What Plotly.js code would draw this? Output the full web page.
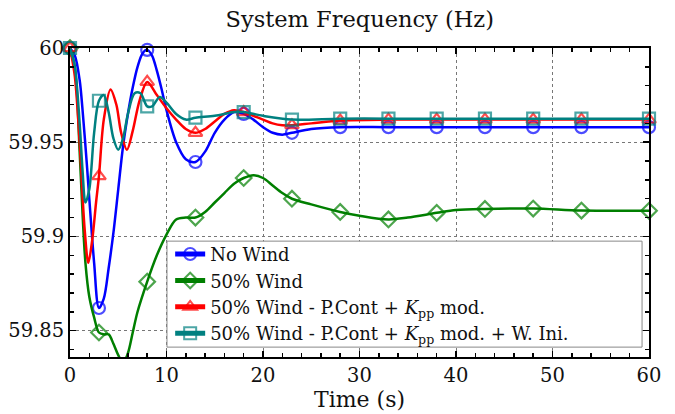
<!DOCTYPE html>
<html>
<head>
<meta charset="utf-8">
<script src="https://cdn.plot.ly/plotly-3.0.1.min.js"></script>
<style>
  html, body { margin: 0; padding: 0; background: #fff; }
  #chart { width: 675px; height: 414px; }
</style>
</head>
<body>
<div id="chart"></div>
<script>
// Frequency response of the system after the disturbance (time in s, frequency in Hz)

// Times at which each curve carries a marker symbol
const markTimes = [0, 3, 8, 13, 18, 23, 28, 33, 38, 43, 48, 53, 60];

// No Wind
const tNoWind = [0, 0.5, 1, 1.35, 1.75, 2, 2.5, 3, 3.5, 4, 4.5, 5, 5.5, 6, 6.5, 7, 7.5, 8, 8.5, 9, 9.5, 10, 11, 12, 13, 14, 15, 16, 17, 18, 19, 20, 21, 22, 23, 25, 28, 33, 38, 43, 48, 53, 60];
const fNoWind = [60.000, 59.996, 59.983, 59.964, 59.938, 59.920, 59.886, 59.862, 59.867, 59.883, 59.902, 59.925, 59.948, 59.965, 59.979, 59.990, 59.997, 59.999, 59.996, 59.988, 59.978, 59.967, 59.950, 59.941, 59.9395, 59.945, 59.955, 59.962, 59.966, 59.965, 59.962, 59.958, 59.955, 59.954, 59.955, 59.957, 59.958, 59.958, 59.958, 59.958, 59.958, 59.958, 59.958];

// 50% Wind
const tWind = [0, 0.5, 1, 1.3, 1.6, 2, 2.5, 3, 3.5, 4, 4.5, 5, 5.5, 6, 6.5, 7, 8, 9, 10, 11, 12, 13, 14, 15, 16, 17, 18, 19, 20, 21, 22, 23, 25, 28, 30, 33, 35, 38, 40, 43, 48, 53, 60];
const fWind = [60.000, 59.990, 59.945, 59.912, 59.886, 59.868, 59.857, 59.849, 59.848, 59.848, 59.843, 59.837, 59.833, 59.838, 59.849, 59.860, 59.876, 59.890, 59.901, 59.909, 59.910, 59.910, 59.913, 59.918, 59.923, 59.928, 59.931, 59.9325, 59.931, 59.927, 59.923, 59.920, 59.917, 59.913, 59.911, 59.909, 59.910, 59.9125, 59.914, 59.9146, 59.9148, 59.9137, 59.9136];

// 50% Wind - P.Cont + Kpp mod.
const tPCont = [0, 0.5, 1, 1.5, 1.9, 2.3, 2.7, 3, 3.5, 4.2, 4.8, 5.3, 5.9, 6.5, 7.2, 8, 9, 10, 11, 12, 13, 14, 15, 16, 17, 18, 19, 20, 21, 22, 23, 25, 28, 33, 38, 43, 48, 53, 60];
const fPCont = [60.000, 59.985, 59.950, 59.905, 59.886, 59.898, 59.918, 59.932, 59.962, 59.978, 59.970, 59.955, 59.946, 59.956, 59.972, 59.982, 59.975, 59.968, 59.962, 59.957, 59.955, 59.957, 59.961, 59.965, 59.967, 59.966, 59.964, 59.962, 59.960, 59.959, 59.959, 59.960, 59.9615, 59.962, 59.962, 59.962, 59.962, 59.962, 59.962];

// 50% Wind - P.Cont + Kpp mod. + W. Ini.
const tWIni = [0, 0.5, 1, 1.3, 1.6, 2, 2.5, 3, 3.5, 4, 4.5, 5, 5.5, 6, 6.7, 7.3, 8, 8.5, 9.3, 10, 11, 12, 13, 15, 17, 18, 20, 23, 28, 33, 38, 43, 48, 53, 60];
const fWIni = [60.000, 59.990, 59.960, 59.935, 59.918, 59.925, 59.955, 59.972, 59.975, 59.966, 59.952, 59.946, 59.952, 59.965, 59.976, 59.976, 59.969, 59.969, 59.974, 59.971, 59.965, 59.962, 59.963, 59.964, 59.966, 59.966, 59.964, 59.962, 59.9625, 59.9625, 59.9625, 59.9625, 59.9625, 59.9625, 59.9625];

const seriesNames = [
  'No Wind',
  '50% Wind',
  '50% Wind - P.Cont + <i>K</i><sub>pp</sub> mod.',
  '50% Wind - P.Cont + <i>K</i><sub>pp</sub> mod. + W. Ini.'
];

// Axis ticks
const xTickVals = [0, 10, 20, 30, 40, 50, 60];
const yTickVals = [59.85, 59.9, 59.95, 60];
const yTickText = ['59.85', '59.9', '59.95', '60'];

const FONT = 'DejaVu Serif';

function curve(t, f, name, color, symbol) {
  const sizes = t.map(v => markTimes.includes(v) ? 12 : 0);
  return {
    type: 'scatter',
    mode: 'lines+markers',
    x: t,
    y: f,
    name: name,
    cliponaxis: false,
    line: { color: color, width: 2.5, shape: 'spline', smoothing: 0.9 },
    marker: { symbol: symbol, size: sizes, color: color, line: { color: color, width: 2.2 } }
  };
}

const data = [
  curve(tNoWind, fNoWind, seriesNames[0], '#0000ff', 'circle-open'),
  curve(tWind, fWind, seriesNames[1], '#007f00', 'diamond-open'),
  curve(tPCont, fPCont, seriesNames[2], '#ff0000', 'triangle-up-open'),
  curve(tWIni, fWIni, seriesNames[3], '#008080', 'square-open')
];

const axisCommon = {
  showline: true,
  linecolor: '#000',
  linewidth: 2,
  mirror: 'ticks',
  ticks: 'inside',
  ticklen: 6,
  tickwidth: 1.5,
  tickcolor: '#000',
  showgrid: true,
  gridcolor: '#777',
  griddash: 'dot',
  gridwidth: 1,
  zeroline: false,
  tickfont: { family: FONT, size: 19.5, color: '#111' }
};

const layout = {
  width: 675,
  height: 414,
  margin: { l: 70, r: 26, t: 48, b: 57 },
  paper_bgcolor: '#fff',
  plot_bgcolor: '#fff',
  showlegend: true,
  font: { family: FONT, color: '#111' },
  title: {
    text: 'System Frequency (Hz)',
    font: { family: FONT, size: 22.5, color: '#111' },
    x: 0.533, xanchor: 'center',
    y: 0.955, yanchor: 'middle', yref: 'container'
  },
  xaxis: Object.assign({}, axisCommon, {
    range: [0, 60],
    tickmode: 'array',
    tickvals: xTickVals,
    minor: { dtick: 2, ticks: 'inside', ticklen: 4, tickcolor: '#000', showgrid: false },
    title: { text: 'Time (s)', font: { family: FONT, size: 22, color: '#111' }, standoff: 0 }
  }),
  yaxis: Object.assign({}, axisCommon, {
    range: [59.836, 60.0],
    tickmode: 'array',
    tickvals: yTickVals,
    ticktext: yTickText,
    minor: { dtick: 0.01, tick0: 59.8, ticks: 'inside', ticklen: 4, tickcolor: '#000', showgrid: false }
  }),
  // framed white panel that holds the legend entries
  shapes: [{
    type: 'rect', xref: 'paper', yref: 'paper',
    x0: 0.1675, x1: 0.988, y0: 0.032, y1: 0.375,
    fillcolor: '#fff',
    line: { color: '#888', width: 1 },
    layer: 'above'
  }],
  legend: {
    x: 0.173, xanchor: 'left',
    y: 0.392, yanchor: 'top',
    bgcolor: 'rgba(0,0,0,0)',
    borderwidth: 0,
    itemsizing: 'constant',
    tracegroupgap: 0,
    font: { family: FONT, size: 18, color: '#111' }
  }
};

Plotly.newPlot('chart', data, layout, { staticPlot: true, displayModeBar: false });
</script>
</body>
</html>
